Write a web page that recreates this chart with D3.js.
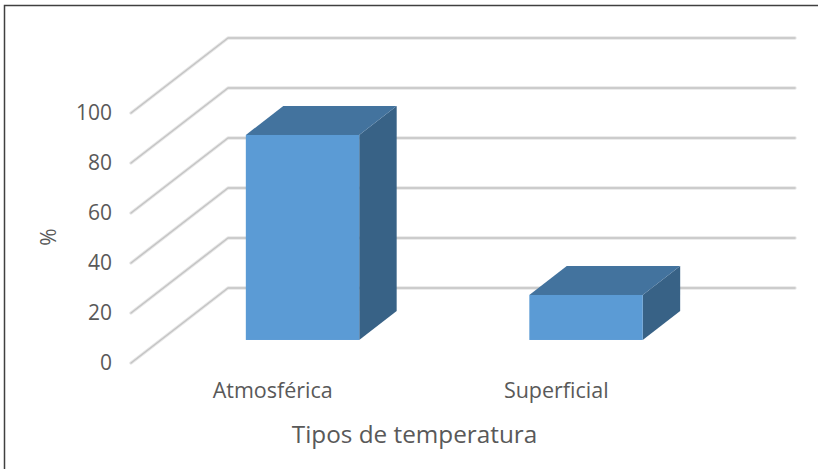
<!DOCTYPE html>
<html>
<head>
<meta charset="utf-8">
<script src="https://cdn.jsdelivr.net/npm/d3@7"></script>
<style>
  body { margin: 0; background: #fff; }
  text { font-family: "Open Sans", sans-serif; fill: #595959; }
</style>
</head>
<body>
<script>
// chart data
var categories = ["Atmosférica", "Superficial"];
var values = [82, 18];
var yTicks = [0, 20, 40, 60, 80, 100];

var width = 818, height = 469;

// front plane of the 3d box
var x0 = 131, x1 = 698, y0 = 363;
// depth vector (front -> back wall)
var depth = {dx: 97, dy: -75};
// bar depth span as fraction of the floor depth
var f0 = 0.307, f1 = 0.693;

var svg = d3.select("body").append("svg")
    .attr("width", width)
    .attr("height", height);

// outer frame (only left and top visible)
svg.append("path")
    .attr("d", "M4.5," + height + " V5.5 H" + width)
    .attr("fill", "none")
    .attr("stroke", "#404040")
    .attr("stroke-width", 1.5);

var xScale = d3.scaleBand()
    .domain(categories)
    .range([x0, x1])
    .paddingInner(0.6)
    .paddingOuter(0.3);

// value -> pixel height
var hScale = d3.scaleLinear()
    .domain([0, 100])
    .range([0, 250]);

// gridlines: diagonal on the side wall, then along the back wall
var grid = svg.append("g");
yTicks.forEach(function(v) {
    var yf = y0 - hScale(v);
    var d = "M" + x0 + "," + yf +
        " L" + (x0 + depth.dx) + "," + (yf + depth.dy) +
        " L" + (x1 + depth.dx) + "," + (yf + depth.dy);
    grid.append("path").attr("d", d)
        .attr("fill", "none").attr("stroke", "#e6e6e6").attr("stroke-width", 3.4)
        .attr("stroke-linejoin", "round").attr("stroke-linecap", "round");
    grid.append("path").attr("d", d)
        .attr("fill", "none").attr("stroke", "#c4c4c4").attr("stroke-width", 1.4)
        .attr("stroke-linejoin", "round").attr("stroke-linecap", "round");
});

// y tick labels
svg.append("g").selectAll("text")
    .data(yTicks)
    .enter().append("text")
    .attr("x", 112)
    .attr("y", function(d) { return y0 - hScale(d); })
    .attr("dy", "0.35em")
    .attr("text-anchor", "end")
    .attr("font-size", 21)
    .text(function(d) { return d; });

// bars
function pt(x, y) { return x + "," + y; }
var bars = svg.append("g").selectAll("g")
    .data(values)
    .enter().append("g");

bars.each(function(v, i) {
    var g = d3.select(this);
    var bx = xScale(categories[i]) + f0 * depth.dx;
    var bw = xScale.bandwidth();
    var by = y0 + f0 * depth.dy;          // front bottom
    var ty = by - hScale(v);              // front top
    var ddx = (f1 - f0) * depth.dx, ddy = (f1 - f0) * depth.dy;
    // side face
    g.append("polygon")
        .attr("points", [pt(bx + bw, by), pt(bx + bw, ty), pt(bx + bw + ddx, ty + ddy), pt(bx + bw + ddx, by + ddy)].join(" "))
        .attr("fill", "#386286");
    // top face
    g.append("polygon")
        .attr("points", [pt(bx, ty), pt(bx + ddx, ty + ddy), pt(bx + bw + ddx, ty + ddy), pt(bx + bw, ty)].join(" "))
        .attr("fill", "#43739e");
    // front face
    g.append("rect")
        .attr("x", bx).attr("y", ty)
        .attr("width", bw).attr("height", by - ty)
        .attr("fill", "#5b9bd5");
});

// category labels
svg.append("g").selectAll("text")
    .data(categories)
    .enter().append("text")
    .attr("x", function(d) { return xScale(d) + xScale.bandwidth() / 2; })
    .attr("y", 398)
    .attr("text-anchor", "middle")
    .attr("font-size", 21.5)
    .text(function(d) { return d; });

// axis titles
svg.append("text")
    .attr("x", 414.5)
    .attr("y", 443)
    .attr("text-anchor", "middle")
    .attr("font-size", 24.3)
    .text("Tipos de temperatura");

svg.append("text")
    .attr("transform", "translate(56,237) rotate(-90)")
    .attr("text-anchor", "middle")
    .attr("font-size", 21)
    .text("%");
</script>
</body>
</html>
